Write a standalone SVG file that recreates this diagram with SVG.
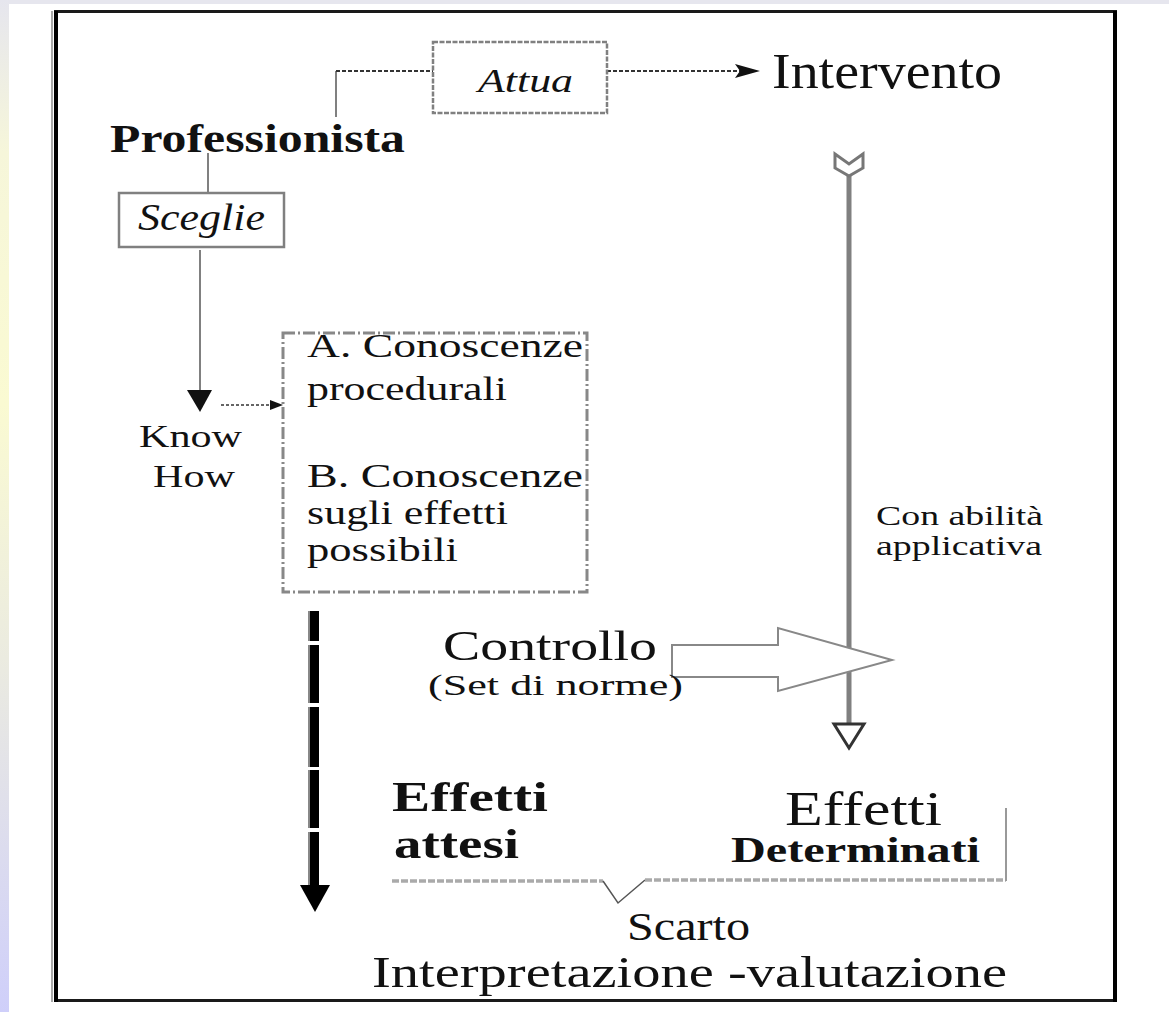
<svg xmlns="http://www.w3.org/2000/svg" width="1169" height="1012" viewBox="0 0 1169 1012">
<defs>
<linearGradient id="side" x1="0" y1="0" x2="0" y2="1">
<stop offset="0" stop-color="#e6e6ee"/>
<stop offset="0.15" stop-color="#f6f6da"/>
<stop offset="0.4" stop-color="#fafad2"/>
<stop offset="0.65" stop-color="#ebebe0"/>
<stop offset="1" stop-color="#cfcffa"/>
</linearGradient>
<style>
.t{font-family:"Liberation Serif","Times New Roman",serif;fill:#111;}
.b{font-weight:bold;}
.i{font-style:italic;}
.box{fill:#fff;stroke:#808080;stroke-width:2.5;}
.gl{fill:none;stroke:#808080;stroke-width:2;}
.dk{fill:none;stroke:#333;stroke-width:2;stroke-dasharray:4 2;}
</style>
</defs>
<rect x="0" y="0" width="1169" height="1012" fill="#fff"/>
<rect x="0" y="0" width="1169" height="4" fill="#e6e6ee"/>
<rect x="0" y="0" width="9" height="1012" fill="url(#side)"/>
<g id="frame">
<rect x="55.5" y="11.5" width="1060" height="989" fill="none" stroke="#1a1a1a" stroke-width="3"/>
<line x1="52" y1="11" x2="52" y2="1002" stroke="#aaa" stroke-width="2"/>
<line x1="56" y1="11" x2="56" y2="1002" stroke="#000" stroke-width="4"/>
<line x1="1115" y1="11" x2="1115" y2="1002" stroke="#000" stroke-width="4"/>
</g>
<g id="connectors">
<polyline class="gl" points="336,117 336,71"/>
<line class="dk" x1="336" y1="71" x2="433" y2="71"/>
<line class="dk" x1="607" y1="71" x2="740" y2="71"/>
<polygon points="735,64 760,71 735,78 740,71" fill="#111"/>
<line class="gl" x1="208" y1="153" x2="208" y2="193"/>
<line class="gl" x1="200" y1="250" x2="200" y2="392"/>
<polygon points="187,390 212,390 200,412" fill="#111"/>
<line x1="221" y1="405" x2="272" y2="405" stroke="#333" stroke-width="1.5" stroke-dasharray="3 2"/>
<polygon points="270,400 283,405 270,410" fill="#111"/>
<path d="M314,611 V641 M314,645 V703 M314,707 V767 M314,770 V828 M314,832 V890" stroke="#000" stroke-width="10" fill="none"/>
<line x1="309" y1="611" x2="309" y2="888" stroke="#888" stroke-width="2" stroke-dasharray="30 4 58 4 60 3 58 4 60"/>
<polygon points="300,885 330,885 315,912" fill="#000"/>
<line x1="849" y1="176" x2="849" y2="724" stroke="#808080" stroke-width="5"/>
<path d="M835,154 L849,164 L863,154 L863,168 L849,176 L835,168 Z" fill="#fff" stroke="#777" stroke-width="3"/>
<polygon points="834,724 864,724 849,748" fill="#fff" stroke="#333" stroke-width="3"/>
<polygon points="672,645 778,645 778,628 892,660 778,691 778,677 672,677" fill="#fff" stroke="#888" stroke-width="2"/>
<polyline points="392,881 603,881" fill="none" stroke="#aaa" stroke-width="3.5" stroke-dasharray="7 2"/>
<polyline points="603,881 618,903 645,880" fill="none" stroke="#555" stroke-width="1.5"/>
<polyline points="645,880 1006,880" fill="none" stroke="#aaa" stroke-width="3.5" stroke-dasharray="7 2"/>
<line x1="1006" y1="808" x2="1006" y2="881" stroke="#999" stroke-width="2"/>
</g>
<g id="professionista">
<text class="t b" x="110" y="152" font-size="40" textLength="295" lengthAdjust="spacingAndGlyphs">Professionista</text>
</g>
<g id="attua">
<rect class="box" x="433" y="42" width="174" height="71" stroke-dasharray="5 1.5"/>
<text class="t i" x="478" y="92" font-size="33" textLength="95" lengthAdjust="spacingAndGlyphs">Attua</text>
</g>
<g id="intervento">
<text class="t" x="772" y="88" font-size="50" textLength="230" lengthAdjust="spacingAndGlyphs">Intervento</text>
</g>
<g id="sceglie">
<rect class="box" x="119" y="193" width="165" height="54"/>
<text class="t i" x="138" y="230" font-size="38" textLength="127" lengthAdjust="spacingAndGlyphs">Sceglie</text>
</g>
<g id="knowhow">
<text class="t" x="139" y="447" font-size="31" textLength="103" lengthAdjust="spacingAndGlyphs">Know</text>
<text class="t" x="153" y="487" font-size="31" textLength="82" lengthAdjust="spacingAndGlyphs">How</text>
</g>
<g id="conoscenze">
<rect x="283" y="333" width="304" height="259" fill="none" stroke="#888" stroke-width="3" stroke-dasharray="12 3 2 3"/>
<text class="t" x="307" y="357" font-size="33" textLength="276" lengthAdjust="spacingAndGlyphs">A.  Conoscenze</text>
<text class="t" x="307" y="400" font-size="33" textLength="200" lengthAdjust="spacingAndGlyphs">procedurali</text>
<text class="t" x="307" y="487" font-size="33" textLength="276" lengthAdjust="spacingAndGlyphs">B.  Conoscenze</text>
<text class="t" x="307" y="524" font-size="33" textLength="201" lengthAdjust="spacingAndGlyphs">sugli effetti</text>
<text class="t" x="307" y="561" font-size="33" textLength="151" lengthAdjust="spacingAndGlyphs">possibili</text>
</g>
<g id="controllo">
<text class="t" x="443" y="660" font-size="42" textLength="214" lengthAdjust="spacingAndGlyphs">Controllo</text>
<text class="t" x="428" y="695" font-size="30" textLength="255" lengthAdjust="spacingAndGlyphs">(Set di norme)</text>
</g>
<g id="abilita">
<text class="t" x="876" y="525" font-size="28" textLength="167" lengthAdjust="spacingAndGlyphs">Con abilità</text>
<text class="t" x="876" y="555" font-size="28" textLength="166" lengthAdjust="spacingAndGlyphs">applicativa</text>
</g>
<g id="effetti-attesi">
<text class="t b" x="392" y="811" font-size="43" textLength="156" lengthAdjust="spacingAndGlyphs">Effetti</text>
<text class="t b" x="394" y="858" font-size="43" textLength="125" lengthAdjust="spacingAndGlyphs">attesi</text>
</g>
<g id="effetti-determinati">
<text class="t" x="785" y="825" font-size="48" textLength="157" lengthAdjust="spacingAndGlyphs">Effetti</text>
<text class="t b" x="731" y="862" font-size="35" textLength="249" lengthAdjust="spacingAndGlyphs">Determinati</text>
</g>
<g id="scarto">
<text class="t" x="627" y="940" font-size="40" textLength="123" lengthAdjust="spacingAndGlyphs">Scarto</text>
<text class="t" x="372" y="987" font-size="45" textLength="635" lengthAdjust="spacingAndGlyphs">Interpretazione -valutazione</text>
</g>
</svg>
